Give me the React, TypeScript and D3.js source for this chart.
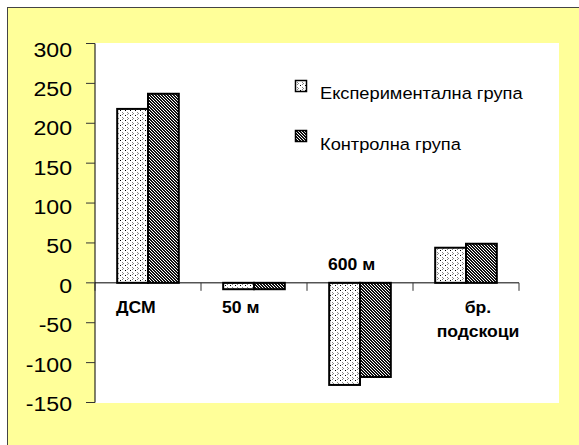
import React from "react";
import * as d3 from "d3";

const categories = ["ДСМ", "50 м", "600 м", "бр. подскоци"];
const categoryLines = [["ДСМ"], ["50 м"], ["600 м"], ["бр.", "подскоци"]];
const seriesNames = ["Експериментална група", "Контролна група"];
const experimental = [218, -8, -128, 44];
const control = [237, -8, -118, 49];
const yTicks = [300, 250, 200, 150, 100, 50, 0, -50, -100, -150];

const W = 579;
const H = 445;
const STRETCH = 1.1;

export default function App() {
  const plot = { left: 95, right: 559, top: 43, bottom: 403 };
  const y = d3.scaleLinear().domain([-150, 300]).range([402.5, 43.5]);
  const yLabel = d3.scaleLinear().domain([-150, 300]).range([411, 56.5]);
  const x = d3.scaleBand<string>().domain(categories).range([95, 519]).padding(0);
  const xs = d3
    .scaleBand<string>()
    .domain(seriesNames)
    .range([0, x.bandwidth()])
    .paddingInner(0)
    .paddingOuter(0.72);
  const values = [experimental, control];
  const fills = ["url(#dots)", "url(#hatch)"];
  const y0 = y(0);
  const font = "'Liberation Sans', Arial, sans-serif";

  const sText = (
    key: string | number,
    tx: number,
    ty: number,
    str: string,
    opts: { size: number; anchor?: string; weight?: string }
  ) => (
    <text
      key={key}
      transform={`translate(${tx},${ty}) scale(${STRETCH},1)`}
      fontFamily={font}
      fontSize={opts.size}
      fontWeight={opts.weight || "normal"}
      textAnchor={opts.anchor || "start"}
      fill="#000"
    >
      {str}
    </text>
  );

  const hatchCells: [number, number][] = [];
  for (let i = 0; i < 3; i++)
    for (let j = 0; j < 3; j++) if ((((i - j) % 3) + 3) % 3 < 2) hatchCells.push([i, j]);

  return (
    <svg width={W} height={H} style={{ position: "absolute", left: 0, top: 0 }}>
      <defs>
        <pattern id="dots" width="5" height="5" patternUnits="userSpaceOnUse">
          <rect width="5" height="5" fill="#fff" />
          <rect x="0" y="0" width="1" height="1" fill="#000" />
          <rect x="2" y="2" width="1" height="1" fill="#888" />
          <rect x="3" y="3" width="1" height="1" fill="#888" />
          <rect x="2" y="4" width="1" height="1" fill="#888" />
        </pattern>
        <pattern id="hatch" width="3" height="3" patternUnits="userSpaceOnUse">
          <rect width="3" height="3" fill="#fff" />
          {hatchCells.map(([i, j]) => (
            <rect key={i + "-" + j} x={i} y={j} width="1" height="1" fill="#111" />
          ))}
        </pattern>
      </defs>

      <rect x={7.5} y={7.5} width={W} height={H} fill="#FFFF99" stroke="#444" strokeWidth={1} />
      <rect
        x={plot.left}
        y={plot.top}
        width={plot.right - plot.left}
        height={plot.bottom - plot.top}
        fill="#fff"
      />

      {/* bars */}
      {categories.map((c, i) =>
        seriesNames.map((s, j) => {
          const v = values[j][i];
          const bx = (x(c) as number) + (xs(s) as number);
          const top = Math.min(y(v), y0);
          const h = Math.abs(y(v) - y0);
          return (
            <rect
              key={c + s}
              x={bx}
              y={top}
              width={xs.bandwidth()}
              height={h}
              fill={fills[j]}
              stroke="#000"
              strokeWidth={2}
            />
          );
        })
      )}

      {/* y axis */}
      <line x1={plot.left} x2={plot.left} y1={y(300)} y2={y(-150)} stroke="#000" strokeWidth={1} />
      {yTicks.map((t) => (
        <g key={t}>
          <line x1={86} x2={plot.left} y1={y(t)} y2={y(t)} stroke="#333" strokeWidth={1} />
          {sText("l" + t, 72, yLabel(t), String(t), { size: 21, anchor: "end" })}
        </g>
      ))}

      {/* x axis */}
      <line x1={plot.left} x2={x.range()[1]} y1={y0} y2={y0} stroke="#000" strokeWidth={1} />
      {[...categories.map((c) => x(c) as number), x.range()[1]].map((tx, i) => (
        <line key={"xt" + i} x1={tx} x2={tx} y1={y0} y2={y0 + 8} stroke="#333" strokeWidth={1} />
      ))}

      {/* category labels */}
      {categories.map((c, i) => {
        const lines = categoryLines[i];
        const start = (x(c) as number) + 21;
        if (lines.length > 1) {
          const cx = (x(c) as number) + 65;
          return lines.map((ln, k) =>
            sText(c + k, cx, y0 + 30 + k * 24, ln, { size: 16, anchor: "middle", weight: "bold" })
          );
        }
        const above = i === 2;
        return sText(c, start, above ? y0 - 13 : y0 + 30, lines[0], { size: 16, weight: "bold" });
      })}

      {/* legend */}
      {seriesNames.map((s, j) => (
        <g key={"lg" + s}>
          <rect
            x={295.5}
            y={80.5 + j * 50}
            width={11}
            height={11}
            fill={fills[j]}
            stroke="#000"
            strokeWidth={1.5}
          />
          {sText("lt" + j, 320, 99 + j * 51, s, { size: 16.6 })}
        </g>
      ))}
    </svg>
  );
}
